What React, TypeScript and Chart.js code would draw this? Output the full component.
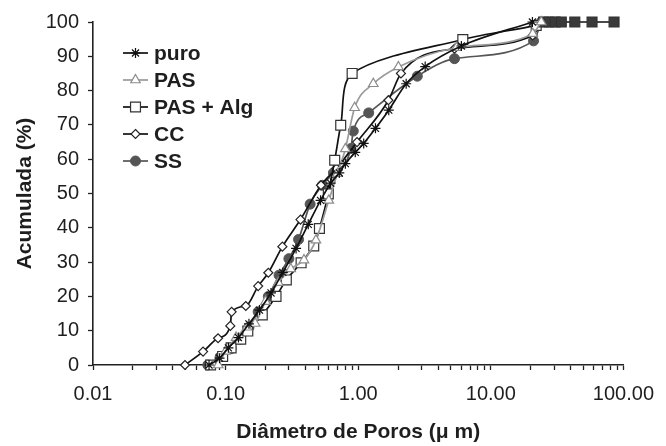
import React, { useEffect, useRef } from 'react';
import { Chart, registerables } from 'chart.js';

Chart.register(...registerables);

const FONT = '"Liberation Sans", Arial, Helvetica, sans-serif';
const TEXT = '#1e1e1e';

// ---- data ----
const seriesNames = ['puro', 'PAS', 'PAS + Alg', 'CC', 'SS'];

const puroX = [0.075, 0.09, 0.105, 0.125, 0.15, 0.18, 0.22, 0.27, 0.34, 0.42, 0.52, 0.62, 0.72, 0.80, 0.95, 1.1, 1.35, 1.7, 2.3, 3.2, 6.0, 20.6];
const puroY = [0, 2, 5, 8, 12, 16, 21, 27, 34, 41, 48, 53, 56, 58.7, 62, 64.6, 69, 74.3, 82, 87, 93, 100];

const pasX = [0.088, 0.1, 0.12, 0.145, 0.167, 0.2, 0.25, 0.31, 0.39, 0.48, 0.6, 0.697, 0.8, 0.94, 1.3, 2.01, 5.5, 20.7, 24];
const pasY = [0, 4, 8, 11, 12.1, 18.5, 24, 28, 30.6, 36.4, 48, 55.8, 63, 75, 82, 86.9, 92.5, 96.6, 100];

const pasAlgX = [0.077, 0.095, 0.11, 0.13, 0.147, 0.189, 0.24, 0.287, 0.371, 0.462, 0.51, 0.595, 0.665, 0.738, 0.9, 6.15, 22, 25, 27.5, 30.5, 34, 43, 58, 85];
const pasAlgY = [0, 2.5, 5, 7.5, 9.9, 14.6, 20, 24.8, 29.8, 34.7, 39.8, 49.9, 59.7, 69.9, 85, 94.9, 99, 100, 100, 100, 100, 100, 100, 100];

const ccX = [0.0494, 0.0676, 0.0877, 0.1085, 0.111, 0.142, 0.176, 0.21, 0.268, 0.367, 0.524, 0.685, 0.98, 1.69, 2.1, 5.32, 20.7, 24];
const ccY = [0, 3.9, 7.8, 11.4, 15.5, 17.2, 23.0, 26.9, 34.5, 42.4, 52.4, 57.3, 65.0, 77.2, 85, 92.2, 96.1, 100];

const ssX = [0.0734, 0.091, 0.11, 0.129, 0.15, 0.176, 0.21, 0.253, 0.3, 0.355, 0.434, 0.536, 0.65, 0.88, 0.918, 1.2, 2.79, 5.32, 21.0, 24];
const ssY = [0, 2.4, 4.8, 7.5, 11, 15.5, 20, 26.2, 31, 36.6, 46.9, 52.4, 56, 63.1, 68.2, 73.5, 84.2, 89.3, 94.5, 100];

const xDecades = [0.01, 0.1, 1, 10, 100];
const xTickLabels = ['0.01', '0.10', '1.00', '10.00', '100.00'];
const minorMultipliers = [2, 3, 4, 5, 6, 7, 8, 9];
const yMin = 0;
const yMax = 100;
const yStep = 10;

const xTitle = 'Diâmetro de Poros (\u03bc m)';
const yTitle = 'Acumulada (%)';

const toXY = (xs: number[], ys: number[]) => xs.map((x, i) => ({ x, y: ys[i] }));

const xTickValues: number[] = [];
xDecades.forEach((d, i) => {
  xTickValues.push(d);
  if (i < xDecades.length - 1) minorMultipliers.forEach((m) => xTickValues.push(+(d * m).toPrecision(6)));
});

type Sty = { style: string; radius: number; fill: string; stroke: string; line: string; lw: number; pbw: number };
const styles: Sty[] = [
  { style: 'star', radius: 5, fill: '#111', stroke: '#111', line: '#111', lw: 1.7, pbw: 1.2 },
  { style: 'triangle', radius: 5.5, fill: '#ffffff', stroke: '#8c8c8c', line: '#9a9a9a', lw: 1.7, pbw: 1.2 },
  { style: 'rect', radius: 7, fill: '#ffffff', stroke: '#333', line: '#111', lw: 1.7, pbw: 1.2 },
  { style: 'rectRot', radius: 4.5, fill: '#ffffff', stroke: '#222', line: '#111', lw: 1.7, pbw: 1.2 },
  { style: 'circle', radius: 5, fill: '#555', stroke: '#555', line: '#555', lw: 1.7, pbw: 1 },
];

function drawMarker(ctx: CanvasRenderingContext2D, s: Sty, x: number, y: number) {
  const r = s.radius;
  ctx.save();
  ctx.fillStyle = s.fill;
  ctx.strokeStyle = s.stroke;
  ctx.lineWidth = s.pbw;
  ctx.beginPath();
  if (s.style === 'star') {
    for (let k = 0; k < 4; k++) {
      const a = (k * Math.PI) / 4;
      ctx.moveTo(x - Math.cos(a) * r, y - Math.sin(a) * r);
      ctx.lineTo(x + Math.cos(a) * r, y + Math.sin(a) * r);
    }
    ctx.stroke();
  } else if (s.style === 'triangle') {
    for (let k = 0; k < 3; k++) {
      const a = (k * 2 * Math.PI) / 3;
      const px = x + Math.sin(a) * r;
      const py = y - Math.cos(a) * r;
      if (k === 0) ctx.moveTo(px, py);
      else ctx.lineTo(px, py);
    }
    ctx.closePath();
    ctx.fill();
    ctx.stroke();
  } else if (s.style === 'rect') {
    const h = r * Math.SQRT1_2;
    ctx.rect(x - h, y - h, 2 * h, 2 * h);
    ctx.fill();
    ctx.stroke();
  } else if (s.style === 'rectRot') {
    ctx.moveTo(x, y - r);
    ctx.lineTo(x + r, y);
    ctx.lineTo(x, y + r);
    ctx.lineTo(x - r, y);
    ctx.closePath();
    ctx.fill();
    ctx.stroke();
  } else {
    ctx.arc(x, y, r, 0, Math.PI * 2);
    ctx.fill();
    ctx.stroke();
  }
  ctx.restore();
}

const legendPlugin = {
  id: 'insideLegend',
  afterDraw(chart: any) {
    const ctx: CanvasRenderingContext2D = chart.ctx;
    const x0 = chart.chartArea.left + 30;
    const lineLen = 25;
    const y0 = chart.chartArea.top + 31;
    const gap = 27;
    ctx.save();
    seriesNames.forEach((name, i) => {
      const s = styles[i];
      const y = y0 + i * gap;
      ctx.strokeStyle = s.line;
      ctx.lineWidth = s.lw;
      ctx.beginPath();
      ctx.moveTo(x0, y);
      ctx.lineTo(x0 + lineLen, y);
      ctx.stroke();
      drawMarker(ctx, s, x0 + lineLen / 2, y);
      ctx.fillStyle = TEXT;
      ctx.font = `bold 21px ${FONT}`;
      ctx.textBaseline = 'middle';
      ctx.textAlign = 'left';
      ctx.fillText(name, x0 + lineLen + 6, y + 1);
    });
    ctx.restore();
  },
};

export default function App() {
  const ref = useRef<HTMLCanvasElement | null>(null);

  useEffect(() => {
    if (!ref.current) return;
    const allData = [toXY(puroX, puroY), toXY(pasX, pasY), toXY(pasAlgX, pasAlgY), toXY(ccX, ccY), toXY(ssX, ssY)];
    const datasets = allData.map((data, i) => {
      const s = styles[i];
      return {
        label: seriesNames[i],
        data,
        clip: false,
        borderColor: s.line,
        borderWidth: s.lw,
        pointStyle: s.style,
        pointRadius: s.radius,
        pointBorderWidth: s.pbw,
        pointBorderColor: s.stroke,
        pointBackgroundColor:
          i === 2
            ? (c: any) => (c.raw && c.raw.y >= 100 ? '#3a3a3a' : '#ffffff')
            : s.fill,
        cubicInterpolationMode: (i === 2 ? 'default' : 'monotone') as any,
        tension: i === 2 ? 0.3 : 0.4,
        fill: false,
      };
    });

    const chart = new Chart(ref.current, {
      type: 'line',
      data: { datasets },
      options: {
        animation: false,
        responsive: false,
        maintainAspectRatio: false,
        devicePixelRatio: 1,
        layout: { padding: { top: 22, right: 37, left: 0, bottom: 0 } },
        plugins: {
          legend: { display: false },
          tooltip: { enabled: false },
          title: { display: false },
        },
        scales: {
          x: {
            type: 'logarithmic',
            min: 0.01,
            max: 100,
            afterBuildTicks: (scale: any) => {
              scale.ticks = xTickValues.map((v) => ({ value: v }));
            },
            afterFit: (scale: any) => {
              scale.height = 81;
            },
            ticks: {
              autoSkip: false,
              maxRotation: 0,
              minRotation: 0,
              padding: 12,
              color: TEXT,
              font: { family: FONT, size: 20 },
              callback: (v: any) => {
                const val = Number(v);
                const idx = xDecades.findIndex((d) => Math.abs(d - val) / d < 1e-6);
                return idx >= 0 ? xTickLabels[idx] : '';
              },
            },
            grid: {
              drawOnChartArea: false,
              drawTicks: true,
              tickLength: 5,
              tickColor: '#222',
              tickWidth: 1.3,
            },
            border: { display: true, color: '#222', width: 1.6 },
            title: {
              display: true,
              text: xTitle,
              color: TEXT,
              font: { family: FONT, size: 21, weight: 'bold' },
              padding: { top: 0, bottom: 1 },
            },
          },
          y: {
            type: 'linear',
            min: yMin,
            max: yMax,
            afterFit: (scale: any) => {
              scale.width = 93;
            },
            ticks: {
              stepSize: yStep,
              padding: 9,
              color: TEXT,
              font: { family: FONT, size: 20 },
            },
            grid: {
              drawOnChartArea: false,
              drawTicks: true,
              tickLength: 5,
              tickColor: '#222',
              tickWidth: 1.3,
            },
            border: { display: true, color: '#222', width: 1.6 },
            title: {
              display: true,
              text: yTitle,
              color: TEXT,
              font: { family: FONT, size: 21, weight: 'bold' },
              padding: { top: 13, bottom: 0 },
            },
          },
        },
      } as any,
      plugins: [legendPlugin],
    });
    return () => chart.destroy();
  }, []);

  return (
    <div style={{ position: 'fixed', left: 0, top: 0, width: 666, height: 446, background: '#ffffff' }}>
      <canvas ref={ref} width={666} height={446} style={{ width: 666, height: 446, display: 'block' }} />
    </div>
  );
}
